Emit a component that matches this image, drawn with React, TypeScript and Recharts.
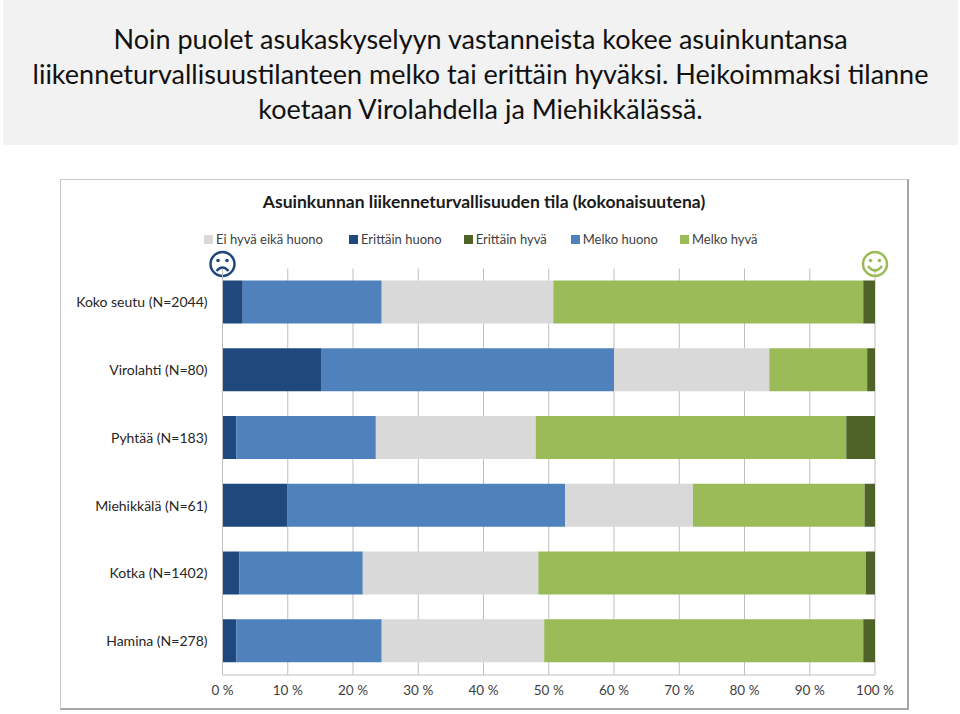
import { BarChart, Bar, XAxis, YAxis, CartesianGrid, Legend } from 'recharts';

const categories = [
  'Koko seutu (N=2044)',
  'Virolahti (N=80)',
  'Pyhtää (N=183)',
  'Miehikkälä (N=61)',
  'Kotka (N=1402)',
  'Hamina (N=278)',
];
const seriesNames = ['Erittäin huono', 'Melko huono', 'Ei hyvä eikä huono', 'Melko hyvä', 'Erittäin hyvä'];
const seriesColors = ['#1f497d', '#4f81bd', '#d9d9d9', '#9bbb59', '#4f6228'];

const erittainHuono = [3.1, 15.1, 2.1, 9.9, 2.6, 2.1];
const melkoHuono = [21.3, 44.9, 21.4, 42.6, 18.9, 22.3];
const eiHyvaEikaHuono = [26.3, 23.8, 24.5, 19.6, 26.9, 24.9];
const melkoHyva = [47.5, 15.0, 47.6, 26.3, 50.2, 48.9];
const erittainHyva = [1.8, 1.2, 4.4, 1.6, 1.4, 1.8];
const tickValues = [0, 10, 20, 30, 40, 50, 60, 70, 80, 90, 100];

const titleLines = [
  'Noin puolet asukaskyselyyn vastanneista kokee asuinkuntansa',
  'liikenneturvallisuustilanteen melko tai erittäin hyväksi. Heikoimmaksi tilanne',
  'koetaan Virolahdella ja Miehikkälässä.',
];

const allSeries = [erittainHuono, melkoHuono, eiHyvaEikaHuono, melkoHyva, erittainHyva];
const rows = categories.map((name, i) => {
  const row: Record<string, string | number> = { name };
  seriesNames.forEach((s, j) => {
    row[s] = allSeries[j][i];
  });
  return row;
});

const FONT = 'Lato, "Open Sans", sans-serif';

function LegendRow({ payload }: any) {
  const gaps = [26, 22, 24, 22, 0];
  return (
    <div style={{ display: 'flex', fontFamily: FONT, fontSize: 13, color: '#404040', lineHeight: '16px' }}>
      {(payload || []).map((p: any, i: number) => (
        <div key={p.value} style={{ display: 'flex', alignItems: 'center', marginRight: gaps[i] }}>
          <span style={{ width: 9, height: 9, background: p.color, marginRight: 3 }} />
          {p.value}
        </div>
      ))}
    </div>
  );
}

function Smiley({ cx, cy, color, happy }: { cx: number; cy: number; color: string; happy: boolean }) {
  return (
    <g fill="none" stroke={color} strokeWidth={2.5}>
      <circle cx={cx} cy={cy} r={12} />
      <circle cx={cx - 4.5} cy={cy - 3.5} r={1.8} fill={color} stroke="none" />
      <circle cx={cx + 4.5} cy={cy - 3.5} r={1.8} fill={color} stroke="none" />
      {happy ? (
        <path d={`M${cx - 7} ${cy + 2} Q${cx} ${cy + 11} ${cx + 7} ${cy + 2}`} />
      ) : (
        <path d={`M${cx - 6} ${cy + 7} Q${cx} ${cy} ${cx + 6} ${cy + 7}`} />
      )}
    </g>
  );
}

export default function App() {
  return (
    <div style={{ position: 'absolute', left: 0, top: 0, width: 960, height: 714, background: '#fff', overflow: 'hidden' }}>
      <div
        style={{
          position: 'absolute',
          left: 3,
          top: 0,
          width: 955,
          height: 145,
          background: '#f2f2f2',
          textAlign: 'center',
          fontFamily: FONT,
          fontSize: 27,
          lineHeight: '35px',
          paddingTop: 21,
          boxSizing: 'border-box',
          color: '#111',
        }}
      >
        {titleLines.map((t) => (
          <div key={t} style={{ whiteSpace: 'nowrap' }}>
            {t}
          </div>
        ))}
      </div>
      <div
        style={{
          position: 'absolute',
          left: 60,
          top: 179,
          width: 849,
          height: 531,
          borderTop: '1px solid #c8c8c8',
          borderLeft: '1px solid #c8c8c8',
          borderRight: '2px solid #a6a6a6',
          borderBottom: '2px solid #a6a6a6',
          boxSizing: 'border-box',
        }}
      />
      <div style={{ position: 'absolute', left: 0, top: 0 }}>
        <BarChart
          width={960}
          height={714}
          layout="vertical"
          data={rows}
          barSize={43}
          margin={{ top: 231, right: 85, bottom: 9, left: 0.5 }}
        >
          <CartesianGrid horizontal={false} stroke="#bfbfbf" />
          <XAxis
            type="number"
            domain={[0, 100]}
            ticks={tickValues}
            tickFormatter={(v: number) => `${v} %`}
            tickLine={false}
            axisLine={{ stroke: '#bfbfbf' }}
            height={30}
            tickMargin={4}
            interval={0}
            tick={{ fontFamily: FONT, fontSize: 13.5, fill: '#404040' }}
          />
          <YAxis
            type="category"
            dataKey="name"
            width={222}
            tickLine={false}
            axisLine={{ stroke: '#bfbfbf' }}
            tickMargin={9}
            interval={0}
            tick={{ fontFamily: FONT, fontSize: 14, fill: '#262626' }}
          />
          <Legend
            verticalAlign="top"
            height={37.5}
            content={<LegendRow />}
            wrapperStyle={{ left: 204, width: 620 }}
          />
          {seriesNames.map((s, i) => (
            <Bar key={s} dataKey={s} stackId="a" fill={seriesColors[i]} isAnimationActive={false} />
          ))}
          <text
            x={484}
            y={208}
            textAnchor="middle"
            fontFamily={FONT}
            fontSize={17.5}
            fontWeight={700}
            fill="#1a1a1a"
          >
            Asuinkunnan liikenneturvallisuuden tila (kokonaisuutena)
          </text>
          <Smiley cx={222.5} cy={264} color="#1f497d" happy={false} />
          <Smiley cx={875} cy={264} color="#9bbb59" happy={true} />
        </BarChart>
      </div>
    </div>
  );
}
